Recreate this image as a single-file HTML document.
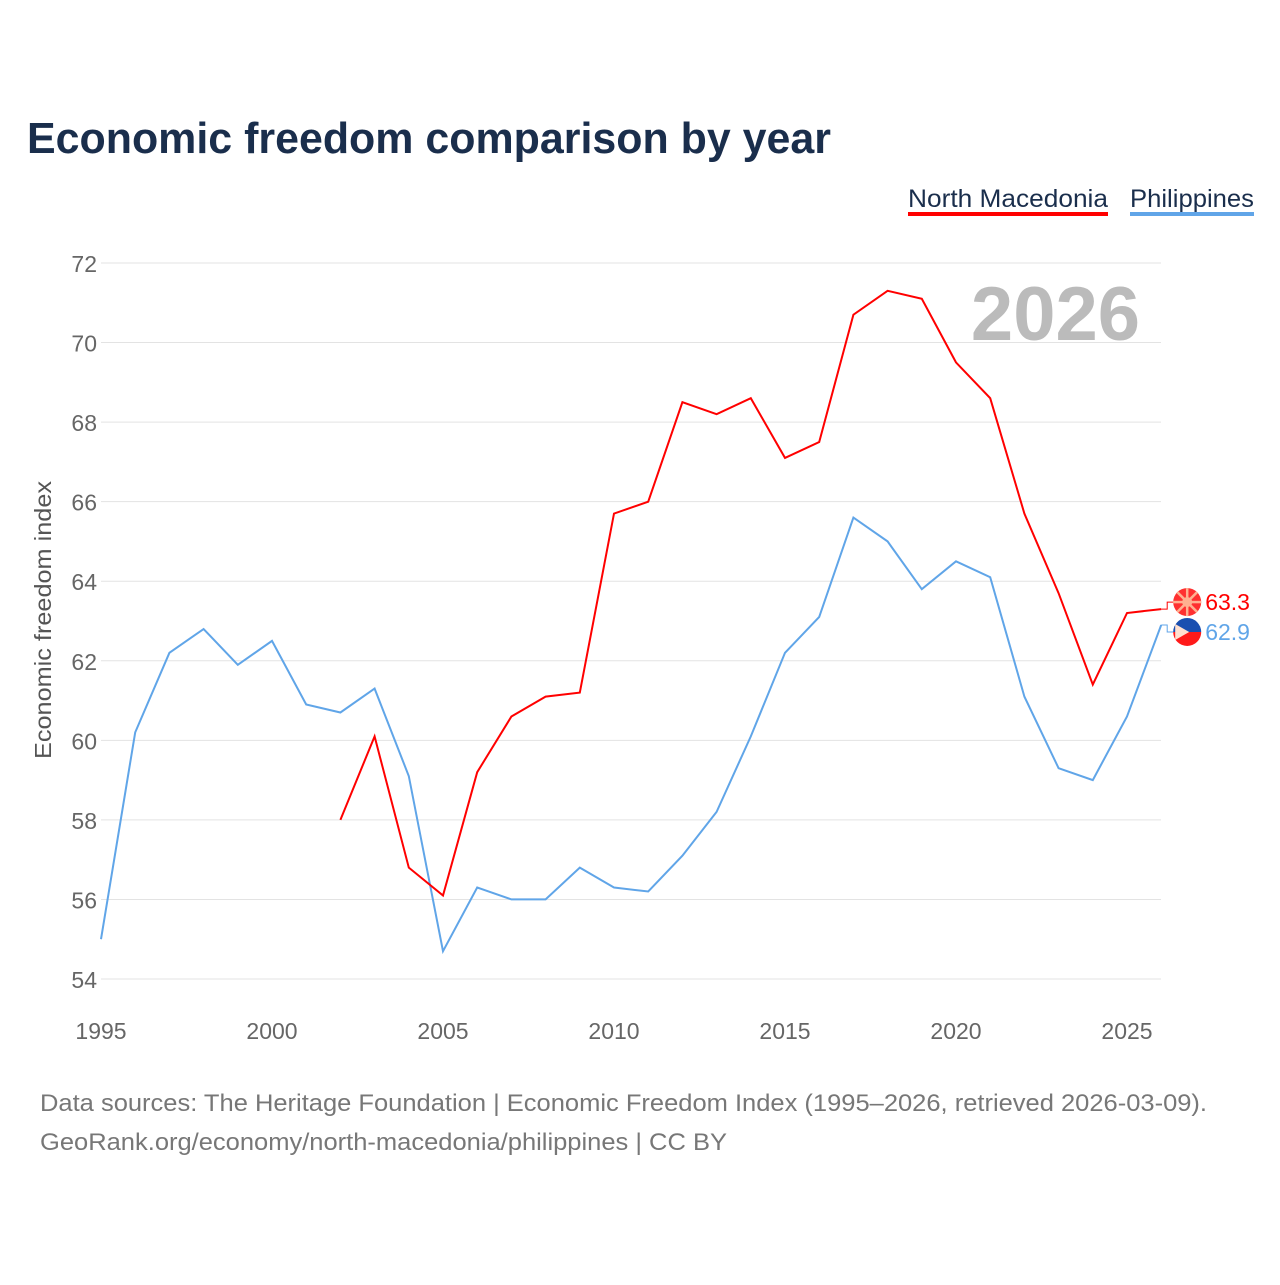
<!DOCTYPE html>
<html><head><meta charset="utf-8"><style>
body{margin:0;background:#fff;font-family:"Liberation Sans",sans-serif}
</style></head><body>
<svg width="1280" height="1280" xmlns="http://www.w3.org/2000/svg" font-family="Liberation Sans, sans-serif">
<text x="27" y="153" font-size="44" font-weight="bold" fill="#1a2e4c" textLength="804" lengthAdjust="spacingAndGlyphs">Economic freedom comparison by year</text>
<g>
<text x="908" y="207" font-size="25" fill="#1a2e4c" textLength="200" lengthAdjust="spacingAndGlyphs">North Macedonia</text>
<rect x="908" y="212" width="200" height="4" fill="#ff0000"/>
<text x="1130" y="207" font-size="25" fill="#1a2e4c" textLength="124" lengthAdjust="spacingAndGlyphs">Philippines</text>
<rect x="1130" y="212" width="124" height="4" fill="#60a5e8"/>
</g>
<text x="1140" y="340" font-size="76" font-weight="bold" fill="#bbbbbb" text-anchor="end">2026</text>
<g id="grid"></g>
<text transform="translate(51,620) rotate(-90)" font-size="23" fill="#555" text-anchor="middle" textLength="278" lengthAdjust="spacingAndGlyphs">Economic freedom index</text>
<g id="series"></g>
<text x="40" y="1111" font-size="24" fill="#777" textLength="1167" lengthAdjust="spacingAndGlyphs">Data sources: The Heritage Foundation | Economic Freedom Index (1995–2026, retrieved 2026-03-09).</text>
<text x="40" y="1150" font-size="24" fill="#777" textLength="687" lengthAdjust="spacingAndGlyphs">GeoRank.org/economy/north-macedonia/philippines | CC BY</text>
</svg>
<script>
const yTicks=[54,56,58,60,62,64,66,68,70,72];
const xTicks=[1995,2000,2005,2010,2015,2020,2025];
const years=[1995,1996,1997,1998,1999,2000,2001,2002,2003,2004,2005,2006,2007,2008,2009,2010,2011,2012,2013,2014,2015,2016,2017,2018,2019,2020,2021,2022,2023,2024,2025,2026];
const philippines=[55.0,60.2,62.2,62.8,61.9,62.5,60.9,60.7,61.3,59.1,54.7,56.3,56.0,56.0,56.8,56.3,56.2,57.1,58.2,60.1,62.2,63.1,65.6,65.0,63.8,64.5,64.1,61.1,59.3,59.0,60.6,62.9];
const northMacedonia=[null,null,null,null,null,null,null,58.0,60.1,56.8,56.1,59.2,60.6,61.1,61.2,65.7,66.0,68.5,68.2,68.6,67.1,67.5,70.7,71.3,71.1,69.5,68.6,65.7,63.7,61.4,63.2,63.3];
const NS="http://www.w3.org/2000/svg";
const xs=y=>101+(y-1995)*(1127-101)/30;
const ys=v=>263+(72-v)*(979-263)/18;
function mk(t,a,p){const e=document.createElementNS(NS,t);for(const k in a)e.setAttribute(k,a[k]);p.appendChild(e);return e;}
const g=document.getElementById('grid');
yTicks.forEach(v=>{
 const l=mk('line',{x1:101,x2:1161,y1:ys(v),y2:ys(v),stroke:'#e3e3e3','stroke-width':1},g);
 
 
 const t=mk('text',{x:97,y:ys(v)+9,'font-size':23,fill:'#666','text-anchor':'end'},g);t.textContent=v;
 
 
});
xTicks.forEach(v=>{
 const t=mk('text',{x:xs(v),y:1039,'font-size':23,fill:'#666','text-anchor':'middle'},g);t.textContent=v;
 
 
});
const s=document.getElementById('series');
function line(vals,color,name){
 let d='',pen=false;
 vals.forEach((v,i)=>{if(v==null){pen=false;return;}d+=(pen?'L':'M')+xs(years[i]).toFixed(1)+','+ys(v).toFixed(1);pen=true;});
 const p=mk('path',{d:d,fill:'none',stroke:color,'stroke-width':2},s);
 
 
}
line(philippines,'#60a5e8','line-philippines');
line(northMacedonia,'#ff0000','line-north-macedonia');
function endLabel(v,color,name,dy,mac){
 const x=xs(2026),y=ys(v)+dy,cx=x+26;
 mk('path',{d:`M${x},${ys(v)}L${x+6},${ys(v)}L${x+6},${y}L${x+12},${y}`,fill:'none',stroke:color,'stroke-width':1},s);
 const fg=mk('g',{},s);
 
 
 if(mac){
  mk('circle',{cx:cx,cy:y,r:14,fill:'#ff3030'},fg);
  for(let k=0;k<8;k++){const a=k*Math.PI/4;mk('line',{x1:cx,y1:y,x2:cx+14*Math.cos(a),y2:y+14*Math.sin(a),stroke:'#ffb090','stroke-width':2.5},fg);}
  mk('circle',{cx:cx,cy:y,r:5,fill:'#ffb090'},fg);
 }else{
  mk('path',{d:`M${cx-14},${y}A14,14 0 0 1 ${cx+14},${y}Z`,fill:'#1a4fb0'},fg);
  mk('path',{d:`M${cx-14},${y}A14,14 0 0 0 ${cx+14},${y}Z`,fill:'#ff1a1a'},fg);
  mk('path',{d:`M${cx-12},${y-8}L${cx+2},${y}L${cx-12},${y+8}Z`,fill:'#ffe0d0'},fg);
 }
 const t=mk('text',{x:x+44,y:y+8,'font-size':23,fill:color},s);t.textContent=v.toFixed(1);
 
 
}
endLabel(northMacedonia[northMacedonia.length-1],'#ff0000','north-macedonia',-7,true);
endLabel(philippines[philippines.length-1],'#60a5e8','philippines',7,false);
</script>
</body></html>
